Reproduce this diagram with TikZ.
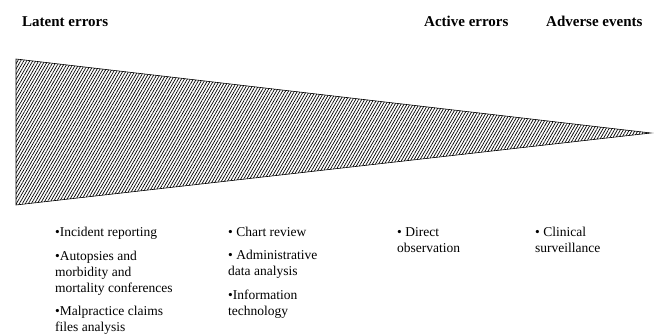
\documentclass[tikz,border=0pt]{standalone}
\usepackage{fontspec}
\setmainfont{Liberation Serif}
\usetikzlibrary{patterns.meta}

\begin{document}
\begin{tikzpicture}[x=1pt, y=-1pt]
\tikzset{
    stage/.style= {anchor=base west, inner sep=0pt, font=\fontsize{15}{17}\selectfont\bfseries},
    method/.style= {anchor=base west, inner sep=0pt, align=left, font=\fontsize{13.5}{16}\selectfont},
    wedge/.style= {draw=black, semithick, pattern={Lines[angle=60, distance=2.6pt, line width=0.7pt]}},
}
\useasboundingbox (0,0) rectangle (655,336);

\node[stage] (latent) at (22,27) {Latent errors};
\node[stage] (active) at (424,27) {Active errors};
\node[stage] (adverse) at (546,27) {Adverse events};

% the wedge
\coordinate (top) at (16,59);
\coordinate (bot) at (16,205);
\coordinate (tip) at (651,133);
\draw[wedge] (top) -- (tip) -- (bot) -- cycle;

% base of a node = baseline of its last line
\node[method] (m1) at (55,237) {•Incident reporting};
\node[method] (m2) at (55,292) {•Autopsies and\\morbidity and\\mortality conferences};
\node[method] (m3) at (55,331) {•Malpractice claims\\files analysis};

\node[method] (m4) at (228,237) {• Chart review};
\node[method] (m5) at (228,276) {• Administrative\\data analysis};
\node[method] (m6) at (228,315) {•Information\\technology};

\node[method] (m7) at (397,253) {• Direct\\observation};
\node[method] (m8) at (535,253) {• Clinical\\surveillance};
\end{tikzpicture}
\end{document}
